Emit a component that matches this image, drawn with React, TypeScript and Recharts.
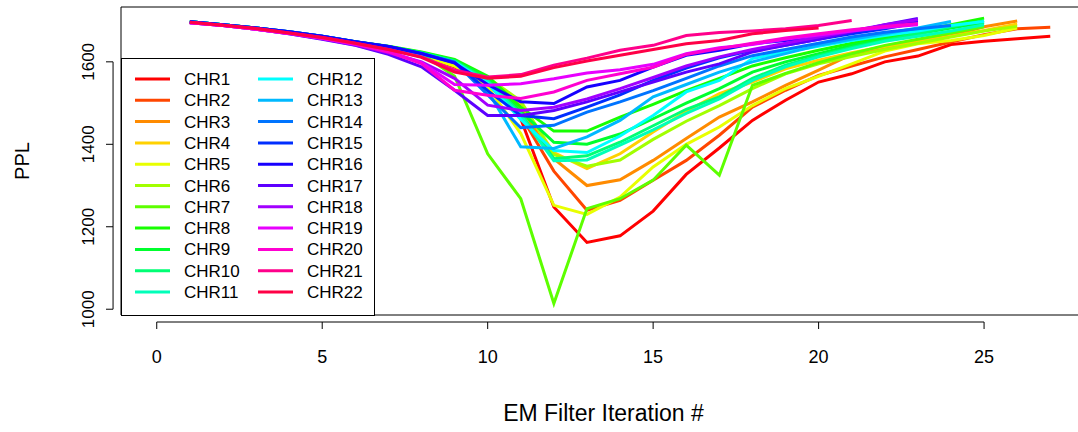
import { LineChart, Line, XAxis, YAxis, ReferenceLine, ReferenceArea, Legend } from 'recharts'

const ITER = [1, 2, 3, 4, 5, 6, 7, 8, 9, 10, 11, 12, 13, 14, 15, 16, 17, 18, 19, 20, 21, 22, 23, 24, 25, 26, 27]

const CHR1 = [1696, 1689, 1681, 1671, 1660, 1646, 1632, 1615, 1588, 1548, 1462, 1248, 1162, 1178, 1238, 1327, 1391, 1458, 1507, 1551, 1571, 1600, 1614, 1642, 1650, 1656, 1662]
const CHR2 = [1696, 1689, 1681, 1671, 1660, 1646, 1632, 1616, 1592, 1552, 1470, 1335, 1240, 1264, 1313, 1361, 1422, 1490, 1531, 1567, 1590, 1612, 1630, 1648, 1666, 1680, 1684]
const CHR3 = [1696, 1689, 1681, 1671, 1660, 1647, 1633, 1617, 1594, 1556, 1490, 1365, 1300, 1314, 1361, 1414, 1466, 1503, 1543, 1580, 1618, 1632, 1652, 1664, 1685, 1699]
const CHR4 = [1696, 1689, 1681, 1671, 1660, 1647, 1634, 1618, 1596, 1560, 1500, 1380, 1341, 1377, 1430, 1480, 1523, 1551, 1583, 1604, 1622, 1637, 1650, 1662, 1676, 1692]
const CHR5 = [1696, 1689, 1681, 1671, 1660, 1646, 1632, 1615, 1590, 1540, 1426, 1252, 1230, 1272, 1345, 1400, 1442, 1494, 1535, 1565, 1595, 1626, 1644, 1652, 1664, 1682]
const CHR6 = [1697, 1690, 1682, 1672, 1661, 1648, 1635, 1620, 1598, 1562, 1505, 1375, 1347, 1362, 1412, 1456, 1494, 1535, 1571, 1595, 1613, 1630, 1645, 1660, 1675, 1686]
const CHR7 = [1697, 1690, 1682, 1672, 1661, 1648, 1636, 1620, 1565, 1377, 1268, 1014, 1244, 1268, 1313, 1398, 1325, 1543, 1572, 1598, 1620, 1640, 1655, 1670, 1685]
const CHR8 = [1697, 1690, 1682, 1673, 1662, 1649, 1638, 1624, 1606, 1565, 1490, 1432, 1432, 1466, 1497, 1530, 1560, 1590, 1610, 1628, 1645, 1660, 1675, 1690, 1706]
const CHR9 = [1697, 1690, 1682, 1672, 1661, 1648, 1637, 1623, 1604, 1560, 1480, 1405, 1400, 1425, 1462, 1500, 1535, 1575, 1600, 1620, 1640, 1655, 1668, 1682, 1695]
const CHR10 = [1697, 1690, 1682, 1672, 1661, 1648, 1636, 1622, 1602, 1555, 1475, 1365, 1372, 1405, 1445, 1485, 1515, 1560, 1592, 1615, 1635, 1652, 1668, 1685, 1700]
const CHR11 = [1697, 1690, 1682, 1672, 1661, 1648, 1636, 1621, 1600, 1552, 1470, 1360, 1362, 1398, 1435, 1475, 1510, 1555, 1588, 1612, 1632, 1650, 1662, 1675, 1690]
const CHR12 = [1697, 1690, 1682, 1672, 1661, 1648, 1635, 1620, 1600, 1548, 1460, 1385, 1380, 1420, 1470, 1527, 1555, 1608, 1624, 1638, 1652, 1664, 1675, 1688, 1698]
const CHR13 = [1697, 1690, 1682, 1673, 1662, 1649, 1636, 1619, 1598, 1530, 1394, 1390, 1418, 1458, 1515, 1545, 1575, 1600, 1620, 1640, 1655, 1668, 1682, 1698]
const CHR14 = [1697, 1690, 1682, 1673, 1662, 1649, 1637, 1620, 1600, 1520, 1440, 1446, 1478, 1503, 1530, 1560, 1590, 1615, 1630, 1645, 1660, 1672, 1680, 1688]
const CHR15 = [1697, 1690, 1682, 1673, 1662, 1649, 1637, 1621, 1598, 1530, 1470, 1462, 1490, 1520, 1555, 1585, 1610, 1628, 1640, 1655, 1668, 1680, 1695]
const CHR16 = [1697, 1690, 1682, 1673, 1662, 1649, 1637, 1620, 1597, 1545, 1503, 1499, 1539, 1555, 1587, 1616, 1628, 1644, 1652, 1662, 1675, 1688, 1700]
const CHR17 = [1695, 1688, 1679, 1668, 1655, 1640, 1618, 1588, 1531, 1470, 1470, 1482, 1503, 1527, 1551, 1575, 1595, 1624, 1640, 1655, 1672, 1690, 1705]
const CHR18 = [1695, 1688, 1679, 1668, 1656, 1641, 1622, 1600, 1560, 1495, 1482, 1490, 1510, 1535, 1562, 1590, 1612, 1630, 1645, 1660, 1675, 1690, 1702]
const CHR19 = [1695, 1688, 1679, 1669, 1657, 1643, 1626, 1598, 1545, 1543, 1547, 1559, 1573, 1581, 1594, 1620, 1634, 1642, 1655, 1665, 1675, 1683, 1690]
const CHR20 = [1695, 1688, 1679, 1669, 1657, 1643, 1624, 1596, 1531, 1519, 1511, 1527, 1555, 1571, 1587, 1618, 1632, 1645, 1658, 1668, 1678, 1686, 1693]
const CHR21 = [1696, 1689, 1681, 1670, 1659, 1645, 1630, 1612, 1580, 1563, 1569, 1592, 1609, 1628, 1640, 1664, 1671, 1675, 1680, 1688, 1700]
const CHR22 = [1696, 1689, 1681, 1670, 1659, 1645, 1630, 1611, 1575, 1560, 1565, 1586, 1602, 1616, 1630, 1644, 1652, 1668, 1676, 1682]

// rainbow(22)
const COLORS = [
  '#FF0000', '#FF4600', '#FF8B00', '#FFD100', '#E8FF00', '#A2FF00', '#5DFF00', '#17FF00',
  '#00FF2E', '#00FF74', '#00FFB9', '#00FFFF', '#00B9FF', '#0074FF', '#002EFF', '#1700FF',
  '#5D00FF', '#A200FF', '#E800FF', '#FF00D1', '#FF008B', '#FF0046',
]

const SERIES = [CHR1, CHR2, CHR3, CHR4, CHR5, CHR6, CHR7, CHR8, CHR9, CHR10, CHR11,
  CHR12, CHR13, CHR14, CHR15, CHR16, CHR17, CHR18, CHR19, CHR20, CHR21, CHR22]
const NAMES = SERIES.map((_, i) => `CHR${i + 1}`)

const X_TICKS = [0, 5, 10, 15, 20, 25]
const Y_TICKS = [1000, 1200, 1400, 1600]
const X_DOMAIN: [number, number] = [-1.08, 28.08]
const Y_DOMAIN: [number, number] = [986, 1733]

const FONT = '"Liberation Sans", Arial, Helvetica, sans-serif'

const data = ITER.map((it, i) => {
  const row: Record<string, number | undefined> = { it }
  SERIES.forEach((s, k) => { row[NAMES[k]] = s[i] })
  return row
})

const XTick = ({ x, y, payload }: any) => (
  <g>
    <line x1={x} x2={x} y1={y + 7} y2={y + 14} stroke="#000" strokeWidth={1} />
    <text x={x} y={y + 42} dy="0.355em" textAnchor="middle" fontSize={18} fontFamily={FONT} fill="#000">
      {payload.value}
    </text>
  </g>
)

const YTick = ({ x, y, payload }: any) => (
  <g>
    <line x1={x - 15} x2={x - 8} y1={y} y2={y} stroke="#000" strokeWidth={1} />
    <text x={x - 33} y={y} dy="0.355em" textAnchor="middle" fontSize={17} fontFamily={FONT} fill="#000"
      transform={`rotate(-90, ${x - 33}, ${y})`}>
      {payload.value}
    </text>
  </g>
)

const LegendBox = () => (
  <svg width={254} height={258} style={{ display: 'block' }}>
    <rect x={0.5} y={0.5} width={253} height={257} fill="#fff" stroke="#000" />
    {NAMES.map((n, i) => {
      const col = i < 11 ? 0 : 1
      const row = i % 11
      const cy = 21 + row * 21.3
      const lx = col === 0 ? 14 : 137
      return (
        <g key={n}>
          <line x1={lx} x2={lx + 35} y1={cy} y2={cy} stroke={COLORS[i]} strokeWidth={3} />
          <text x={lx + 49} y={cy} dy="0.355em" fontSize={17} fontFamily={FONT} fill="#000">{n}</text>
        </g>
      )
    })}
  </svg>
)

export default function App() {
  return (
    <div style={{ position: 'relative', width: 1078, height: 432, background: '#fff' }}>
      <style>{'body{margin:0}'}</style>
      <LineChart width={1078} height={432} data={data} margin={{ top: 7, right: -8, bottom: 0, left: 0 }}>
        <XAxis dataKey="it" type="number" domain={X_DOMAIN} ticks={X_TICKS} allowDataOverflow
          axisLine={false} tickLine={false} tickSize={0} tickMargin={0} height={117} tick={<XTick />}
          label={{ value: 'EM Filter Iteration #', position: 'insideBottom', offset: 11, fontSize: 23, fontFamily: FONT, fill: '#000' }} />
        <YAxis type="number" domain={Y_DOMAIN} ticks={Y_TICKS} allowDataOverflow
          axisLine={false} tickLine={false} tickSize={0} tickMargin={0} width={121} tick={<YTick />}
          label={{ value: 'PPL', angle: -90, position: 'insideLeft', offset: 22, fontSize: 20, fontFamily: FONT, fill: '#000', style: { textAnchor: 'middle' } }} />
        <ReferenceArea x1={X_DOMAIN[0]} x2={X_DOMAIN[1]} y1={Y_DOMAIN[0]} y2={Y_DOMAIN[1]}
          fill="none" stroke="#000" strokeWidth={1} fillOpacity={0} ifOverflow="visible" />
        <ReferenceLine segment={[{ x: 0, y: 969 }, { x: 25, y: 969 }]} stroke="#000" ifOverflow="visible" />
        <ReferenceLine segment={[{ x: -1.32, y: 1000 }, { x: -1.32, y: 1600 }]} stroke="#000" ifOverflow="visible" />
        {NAMES.map((n, i) => (
          <Line key={n} dataKey={n} name={n} type="linear" stroke={COLORS[i]} strokeWidth={3}
            dot={false} activeDot={false} isAnimationActive={false} />
        ))}
        <Legend layout="vertical" align="center" verticalAlign="middle" content={<LegendBox />}
          wrapperStyle={{ position: 'absolute', left: 121, top: 58, width: 254, height: 258 }} />
      </LineChart>
    </div>
  )
}
